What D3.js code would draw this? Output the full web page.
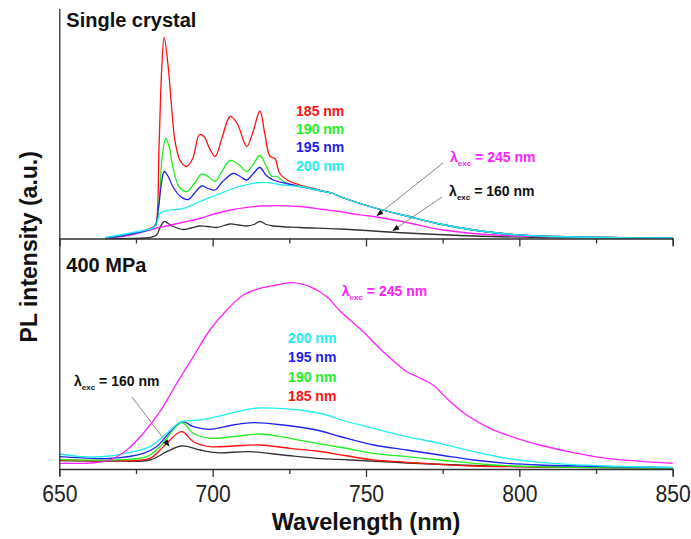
<!DOCTYPE html>
<html><head><meta charset="utf-8">
<script src="https://cdn.jsdelivr.net/npm/d3@7"></script>
<style>
body{margin:0;background:#fff;}
text{font-family:"Liberation Sans",Arial,sans-serif;}
</style></head>
<body><svg id="chart" width="691" height="539"></svg>
<script>
// ---- data (wavelength nm, PL intensity a.u.) ----
const xTicks = [650, 675, 700, 725, 750, 775, 800, 825, 850];
const xTickLabels = ["650", "", "700", "", "750", "", "800", "", "850"];

// Single crystal panel
const topRed = [[665,0.5],[674,5],[681,12],[681.5,13],[682.5,90],[683.4,170],[684.2,201],[685.5,172],[686.6,132],[687.7,98],[689.4,78],[691.5,72],[693.5,80],[695.7,104],[697.2,102],[699,90],[700.8,82],[703,100],[705.7,122],[708,115],[711.1,92],[713,105],[715.4,127.5],[717,105],[718.7,82],[720.3,80],[721.9,65],[725.2,57],[728.5,53.5],[734,49],[739.3,45],[741.5,42],[752.4,31],[763.3,22.5],[774.1,14.5],[785,8.5],[795.9,4.5],[806.7,2.5],[828.5,1],[850,0.5]];
const topGreen = [[665,0.5],[674,5],[681,12],[682.3,30],[683.5,80],[684.7,100],[685.8,92],[687,72],[689,52],[691.5,47],[694,55],[696.4,64.5],[698.5,62],[700.8,57],[703,67],[705.7,78],[708.5,74],[711.1,67],[713,73],[715.4,83],[717.5,72],[719.2,62.5],[720.9,62],[724.1,55],[728.5,52],[734,48.5],[739.3,45],[741.5,42],[752.4,31],[763.3,22.5],[774.1,14.5],[785,8.5],[795.9,4.5],[806.7,2.5],[828.5,1],[850,0.5]];
const topBlue = [[665,0.5],[674,5],[681,12],[682.3,30],[683.3,55],[684.2,67],[685.5,62],[687,52],[689.5,42],[692.1,39],[694,45],[696.4,52.5],[698.5,50],[700.8,48.5],[703,56],[706.7,65],[709,62],[711.1,58.5],[713,64],[715.4,71],[717.5,63],[719.8,58.5],[724.1,55],[728.5,52],[734,48.5],[739.3,45],[741.5,42],[752.4,31],[763.3,22.5],[774.1,14.5],[785,8.5],[795.9,4.5],[806.7,2.5],[828.5,1],[850,0.5]];
const topCyan = [[665,1],[674,6],[681.2,12],[682.8,25],[685,28],[690.4,30],[695.9,37],[701.3,43.5],[706.7,50],[715.4,56],[723,53.5],[728.5,52],[734,48.5],[739.3,45],[741.5,42],[752.4,31],[763.3,22.5],[774.1,14.5],[785,8.5],[795.9,4.5],[806.7,2.5],[828.5,1],[850,0.5]];
const topMagenta = [[665,0],[674,4],[681.2,10],[685,12.5],[690,16],[695.9,20],[701,25],[706.7,29],[715.4,32.5],[728.5,32],[736,29],[741.5,27],[744.8,25],[752.4,22],[763.3,16],[774.1,9],[785,5],[795.9,3],[806.7,2],[828.5,1],[850,0.5]];
const topBlack = [[665,0],[679.6,1],[681.7,3.5],[683,12],[684.2,17],[685.5,15],[687.2,12],[690.4,9],[693,10.5],[695.9,12.5],[698.5,12],[701.3,11],[705.7,14.5],[708.5,13.5],[711.1,12.5],[713.5,14],[715.4,17],[717.5,14],[719.8,12.5],[728.5,11],[741.5,9.5],[763.3,5.5],[785,2.5],[806.7,1],[850,0.5]];

// 400 MPa panel
const botMagenta = [[650,5.7],[657.8,5.7],[662,6.5],[666.5,9],[669,13],[672,19],[677.4,35.7],[682.8,57.3],[688.3,85.7],[693.7,112.3],[699.1,139],[704.6,159],[710,174],[715.4,180.7],[720.9,184],[726.1,186.3],[731.7,182.3],[737.2,172.3],[741.5,158],[749.1,137.3],[755.6,117.3],[763.3,97.3],[767,92],[771.9,84],[776.3,70.7],[782.8,54],[790.4,40.7],[799.1,30.7],[806.7,24],[817.6,16.3],[828.5,10.7],[850,5.7]];
const botCyan = [[650,15],[657.8,12.3],[666.5,13],[674.1,17.3],[679.6,22.3],[685,35.7],[689.9,47.3],[695.9,49],[701.3,52.3],[706.7,56.3],[713.3,60.7],[720.9,60.7],[728.5,59],[737.2,54],[741.5,49.5],[752.4,40.7],[763.3,32.3],[774.1,25.7],[785,17.3],[795.9,10.7],[806.7,6.7],[828.5,3],[850,1.7]];
const botBlue = [[650,12.3],[666.5,10.7],[677.4,15.7],[681.7,22.3],[689.9,47.3],[693.7,42.3],[699.1,39.7],[706.7,44],[713.3,46.3],[723,44],[733.9,39],[741.5,32.5],[752.4,24],[763.3,19],[774.1,14],[785,9],[795.9,5.7],[806.7,4],[850,1.3]];
const botGreen = [[650,9.7],[666.5,9],[678.5,12.3],[682.8,22.3],[689.9,46.3],[693.7,35.7],[699.1,30.7],[706.7,32.3],[715.4,35],[725.2,30.7],[733.9,25.7],[743,21],[752.4,15.7],[763.3,12.3],[774.1,9],[785,5.7],[795.9,3.3],[850,1]];
const botRed = [[650,9],[666.5,8.3],[679.6,10.7],[683.9,22.3],[689.9,37.3],[693.7,27.3],[699.1,22.3],[706.7,23],[715.4,24],[725.2,20.7],[733.9,18],[743,13.5],[752.4,9],[763.3,6.7],[774.1,4.7],[785,3],[850,1]];
const botBlack = [[650,8.3],[666.5,8],[679.6,9],[685,17.3],[689.9,23],[695.9,19],[701.3,16.3],[712.2,17.3],[723,14],[733.9,10.7],[744.8,9],[763.3,6],[785,3.5],[806.7,2],[850,1]];

const colors = {red:"#ff1111", green:"#22ee22", blue:"#2222ee", cyan:"#22eeee", magenta:"#ff22ff", black:"#333333"};
const excLabels = ["185 nm","190 nm","195 nm","200 nm"];

// ---- layout ----
const svg = d3.select("#chart");
const left = 59.3, right = 672.7;
const topPanel = {y0: 238.5, y1: 8.5};
const botPanel = {y0: 469, y1: 238.5};
const x = d3.scaleLinear().domain([650, 850]).range([left, right]);
const yTop = d3.scaleLinear().domain([0, 230]).range([topPanel.y0, topPanel.y1]);
const yBot = d3.scaleLinear().domain([0, 230.5]).range([botPanel.y0, botPanel.y1]);

function drawLine(data, y, color){
  const line = d3.line().x(d=>x(d[0])).y(d=>y(d[1])).curve(d3.curveCatmullRom.alpha(0.5));
  svg.append("path").datum(data).attr("d", line).attr("fill","none")
    .attr("stroke", color).attr("stroke-width",1.3).attr("stroke-linejoin","round");
}

// top panel lines
drawLine(topBlack, yTop, colors.black);
drawLine(topMagenta, yTop, colors.magenta);
drawLine(topRed, yTop, colors.red);
drawLine(topGreen, yTop, colors.green);
drawLine(topBlue, yTop, colors.blue);
drawLine(topCyan, yTop, colors.cyan);
// bottom panel lines
drawLine(botBlack, yBot, colors.black);
drawLine(botRed, yBot, colors.red);
drawLine(botGreen, yBot, colors.green);
drawLine(botBlue, yBot, colors.blue);
drawLine(botCyan, yBot, colors.cyan);
drawLine(botMagenta, yBot, colors.magenta);

// axes
function xAxis(yPos, labels){
  const ax = d3.axisBottom(x).tickValues(xTicks).tickSizeOuter(0)
    .tickSize(7).tickFormat((d,i)=> labels ? xTickLabels[i] : "");
  const g = svg.append("g").attr("transform",`translate(0,${yPos})`).call(ax);
  g.select(".domain").attr("stroke","#333").attr("stroke-width",1.3);
  g.selectAll(".tick line").attr("stroke","#333").attr("stroke-width",1.3)
    .attr("y2", (d,i)=> (i%2===0)?8:5);
  g.selectAll(".tick text").attr("font-size",24).attr("fill","#222")
    .attr("y", 0).attr("dy", 0).attr("transform","translate(0,32.5) scale(0.88,1)")
    .attr("font-family","Liberation Sans, Arial, sans-serif");
  return g;
}
xAxis(topPanel.y0, false);
xAxis(botPanel.y0, true);
// left axis line
const yFull = d3.scaleLinear().domain([0,1]).range([botPanel.y0, topPanel.y1]);
const ly = svg.append("g").attr("transform",`translate(${left},0)`)
  .call(d3.axisLeft(yFull).tickValues([]).tickSizeOuter(0));
ly.select(".domain").attr("stroke","#333").attr("stroke-width",1.3);

// axis titles
svg.append("text").attr("x", (left+right)/2).attr("y", 530).attr("text-anchor","middle")
  .attr("font-size",23.5).attr("font-weight","bold").attr("fill","#111").text("Wavelength (nm)");
svg.append("text").attr("transform",`translate(37,${(topPanel.y1+botPanel.y0)/2 + 8}) rotate(-90)`)
  .attr("text-anchor","middle").attr("font-size",23).attr("font-weight","bold").attr("fill","#111")
  .text("PL intensity (a.u.)");

// panel titles
svg.append("text").attr("x", left+7).attr("y", 27).attr("font-size",20).attr("font-weight","bold")
  .attr("fill","#111").text("Single crystal");
svg.append("text").attr("x", left+7).attr("y", 272).attr("font-size",20).attr("font-weight","bold")
  .attr("fill","#111").text("400 MPa");

// excitation labels
const topLabelCols = [colors.red, colors.green, colors.blue, colors.cyan];
const topLabelH = [122.8, 104.5, 86.2, 67.5];
excLabels.forEach((t,i)=>{
  svg.append("text").attr("x", x(727.2)).attr("y", yTop(topLabelH[i])).attr("font-size",14)
    .attr("font-weight","bold").attr("fill", topLabelCols[i]).text(t);
});
const botOrder = [3,2,1,0];
const botLabelCols = [colors.cyan, colors.blue, colors.green, colors.red];
const botLabelH = [126.3, 107.3, 87.3, 68.3];
botOrder.forEach((k,i)=>{
  svg.append("text").attr("x", x(724.6)).attr("y", yBot(botLabelH[i])).attr("font-size",14)
    .attr("font-weight","bold").attr("fill", botLabelCols[i]).text(excLabels[k]);
});

function lambdaLabel(px, py, value, color){
  const t = svg.append("text").attr("x",px).attr("y",py).attr("font-size",14)
    .attr("font-weight","bold").attr("fill",color);
  t.append("tspan").text("λ");
  t.append("tspan").attr("font-size",8).attr("dy",4).text("exc");
  t.append("tspan").attr("dy",-4).text(" = " + value + " nm");
}
lambdaLabel(x(777.4), yTop(76.8), 245, colors.magenta);
lambdaLabel(x(777.1), yTop(42.5), 160, "#111");
lambdaLabel(x(742.1), yBot(173), 245, colors.magenta);
lambdaLabel(x(654.8), yBot(83), 160, "#111");

// arrows
svg.append("defs").append("marker").attr("id","ah").attr("viewBox","0 0 10 10")
  .attr("refX",9).attr("refY",5).attr("markerWidth",7).attr("markerHeight",7)
  .attr("markerUnits","userSpaceOnUse").attr("orient","auto")
  .append("path").attr("d","M0,1 L10,5 L0,9 Z").attr("fill","#111");
function arrow(a, b, y){
  svg.append("line").attr("x1",x(a[0])).attr("y1",y(a[1])).attr("x2",x(b[0])).attr("y2",y(b[1]))
    .attr("stroke","#888").attr("stroke-width",1).attr("marker-end","url(#ah)");
}
arrow([775.1,75.5],[753.6,23],yTop);
arrow([774.8,41.5],[758.8,8],yTop);
arrow([673.7,72],[685.8,23],yBot);
</script></body></html>
